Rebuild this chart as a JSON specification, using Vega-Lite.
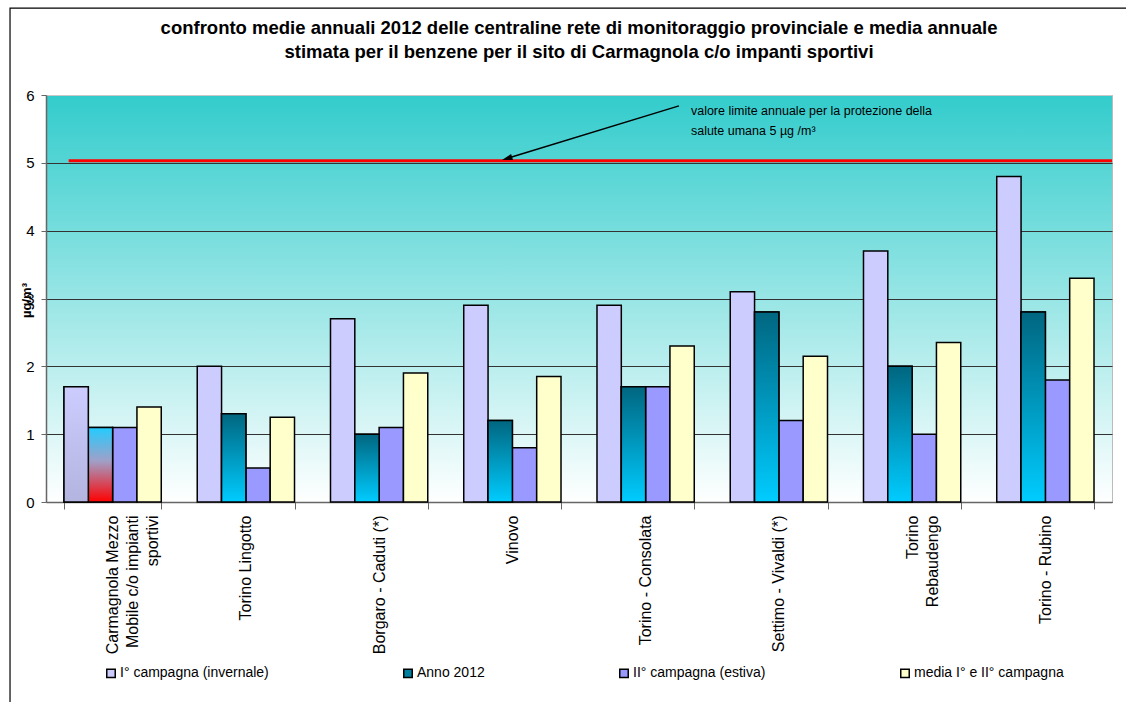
{
  "$schema": "https://vega.github.io/schema/vega-lite/v6.json",
  "width": 1066,
  "height": 407,
  "autosize": {"type": "none"},
  "padding": {"left": 46, "top": 95, "right": 14, "bottom": 200},
  "background": "#FFFFFF",
  "view": {
    "fill": {"gradient": "linear", "x1": 0, "y1": 0, "x2": 0, "y2": 1, "stops": [{"offset": 0, "color": "#33CCCC"}, {"offset": 1, "color": "#FFFFFF"}]},
    "stroke": "#BBBBBB",
    "strokeWidth": 1
  },
  "title": {
    "text": ["confronto medie annuali 2012 delle centraline rete di monitoraggio provinciale e media annuale", "stimata  per il benzene per il sito di Carmagnola c/o impanti sportivi"],
    "font": "Liberation Sans",
    "fontSize": 18.5,
    "fontWeight": "bold",
    "lineHeight": 24,
    "color": "#000000",
    "anchor": "middle",
    "offset": -54
  },
  "config": {
    "font": "Liberation Sans",
    "axis": {"labelColor": "#000000", "titleColor": "#000000", "labelFont": "Liberation Sans", "titleFont": "Liberation Sans"},
    "legend": {"labelFont": "Liberation Sans"}
  },
  "data": {
    "values": [
      {"station": "Carmagnola Mezzo\nMobile c/o impianti\nsportivi", "series": "I° campagna (invernale)", "value": 1.7},
      {"station": "Carmagnola Mezzo\nMobile c/o impianti\nsportivi", "series": "Anno 2012", "value": 1.1},
      {"station": "Carmagnola Mezzo\nMobile c/o impianti\nsportivi", "series": "II° campagna (estiva)", "value": 1.1},
      {"station": "Carmagnola Mezzo\nMobile c/o impianti\nsportivi", "series": "media I° e II° campagna", "value": 1.4},
      {"station": "Torino Lingotto", "series": "I° campagna (invernale)", "value": 2.0},
      {"station": "Torino Lingotto", "series": "Anno 2012", "value": 1.3},
      {"station": "Torino Lingotto", "series": "II° campagna (estiva)", "value": 0.5},
      {"station": "Torino Lingotto", "series": "media I° e II° campagna", "value": 1.25},
      {"station": "Borgaro - Caduti (*)", "series": "I° campagna (invernale)", "value": 2.7},
      {"station": "Borgaro - Caduti (*)", "series": "Anno 2012", "value": 1.0},
      {"station": "Borgaro - Caduti (*)", "series": "II° campagna (estiva)", "value": 1.1},
      {"station": "Borgaro - Caduti (*)", "series": "media I° e II° campagna", "value": 1.9},
      {"station": "Vinovo", "series": "I° campagna (invernale)", "value": 2.9},
      {"station": "Vinovo", "series": "Anno 2012", "value": 1.2},
      {"station": "Vinovo", "series": "II° campagna (estiva)", "value": 0.8},
      {"station": "Vinovo", "series": "media I° e II° campagna", "value": 1.85},
      {"station": "Torino - Consolata", "series": "I° campagna (invernale)", "value": 2.9},
      {"station": "Torino - Consolata", "series": "Anno 2012", "value": 1.7},
      {"station": "Torino - Consolata", "series": "II° campagna (estiva)", "value": 1.7},
      {"station": "Torino - Consolata", "series": "media I° e II° campagna", "value": 2.3},
      {"station": "Settimo - Vivaldi (*)", "series": "I° campagna (invernale)", "value": 3.1},
      {"station": "Settimo - Vivaldi (*)", "series": "Anno 2012", "value": 2.8},
      {"station": "Settimo - Vivaldi (*)", "series": "II° campagna (estiva)", "value": 1.2},
      {"station": "Settimo - Vivaldi (*)", "series": "media I° e II° campagna", "value": 2.15},
      {"station": "Torino\nRebaudengo", "series": "I° campagna (invernale)", "value": 3.7},
      {"station": "Torino\nRebaudengo", "series": "Anno 2012", "value": 2.0},
      {"station": "Torino\nRebaudengo", "series": "II° campagna (estiva)", "value": 1.0},
      {"station": "Torino\nRebaudengo", "series": "media I° e II° campagna", "value": 2.35},
      {"station": "Torino - Rubino", "series": "I° campagna (invernale)", "value": 4.8},
      {"station": "Torino - Rubino", "series": "Anno 2012", "value": 2.8},
      {"station": "Torino - Rubino", "series": "II° campagna (estiva)", "value": 1.8},
      {"station": "Torino - Rubino", "series": "media I° e II° campagna", "value": 3.3}
    ]
  },
  "layer": [
    {
      "layer": [
        {
          "mark": {"type": "bar", "stroke": "#000000", "strokeWidth": 1.5},
          "encoding": {
            "x": {
              "field": "station", "type": "nominal", "sort": null,
              "scale": {"paddingInner": 0.27, "paddingOuter": 0.135},
              "axis": {
                "title": null, "labelAngle": -90, "labelFontSize": 16, "labelLineHeight": 20,
                "labelExpr": "split(datum.label, '\\n')",
                "tickBand": "extent", "tickSize": 7, "tickColor": "#666666", "tickWidth": 1,
                "domainColor": "#666666", "domainWidth": 1.5, "labelPadding": 6, "grid": false,
                "encode": {"labels": {"update": {"dy": {"signal": "-(length(split(datum.label, '\\n')) - 1) * 10"}}}}
              }
            },
            "xOffset": {
              "field": "series", "type": "nominal",
              "scale": {"domain": ["I° campagna (invernale)", "Anno 2012", "II° campagna (estiva)", "media I° e II° campagna"], "paddingInner": 0, "paddingOuter": 0}
            },
            "y": {
              "field": "value", "type": "quantitative",
              "scale": {"domain": [0, 6], "nice": false, "zero": true},
              "axis": {
                "values": [0, 1, 2, 3, 4, 5, 6], "format": "d", "title": "µg/m³", "titleFontSize": 13, "titleFontWeight": "bold",
                "titleAngle": -90, "titleX": -20, "titleY": 205, "titleAlign": "center", "titleBaseline": "middle",
                "labelFontSize": 15, "labelPadding": 7, "tickSize": 5, "tickColor": "#666666",
                "domainColor": "#666666", "domainWidth": 1.5,
                "grid": true, "gridColor": {"condition": {"test": "datum.value === 6", "value": "#C8C8C8"}, "value": "#333333"}, "gridWidth": 1
              }
            },
            "color": {
              "field": "series", "type": "nominal",
              "scale": {"domain": ["I° campagna (invernale)", "Anno 2012", "II° campagna (estiva)", "media I° e II° campagna"], "range": ["#CCCCFF", "#00809F", "#9999FF", "#FFFFCC"]},
              "legend": {
                "title": null, "orient": "none", "legendX": 58, "legendY": 571, "direction": "horizontal", "columns": 4,
                "columnPadding": 131, "symbolType": "square", "symbolSize": 72, "symbolStrokeColor": "#000000", "symbolStrokeWidth": 1.5,
                "symbolOpacity": 1, "labelFontSize": 14, "labelOffset": 2, "labelLimit": 300
              }
            }
          }
        },
        {
          "transform": [{"filter": "datum.series === 'Anno 2012'"}],
          "mark": {"type": "bar", "stroke": "#000000", "strokeWidth": 1.5},
          "encoding": {
            "x": {"field": "station", "type": "nominal", "sort": null},
            "xOffset": {"field": "series", "type": "nominal"},
            "y": {"field": "value", "type": "quantitative"},
            "fill": {
              "condition": {
                "test": "indexof(datum.station, 'Carmagnola') >= 0",
                "value": {"gradient": "linear", "x1": 0, "y1": 0, "x2": 0, "y2": 1, "stops": [{"offset": 0, "color": "#22CCFF"}, {"offset": 0.45, "color": "#A0A0C8"}, {"offset": 1, "color": "#FF0000"}]}
              },
              "value": {"gradient": "linear", "x1": 0, "y1": 0, "x2": 0, "y2": 1, "stops": [{"offset": 0, "color": "#006680"}, {"offset": 1, "color": "#00CCFF"}]}
            }
          }
        },
        {
          "transform": [{"filter": "datum.series === 'I° campagna (invernale)' && indexof(datum.station, 'Carmagnola') >= 0"}],
          "mark": {"type": "bar", "stroke": "#000000", "strokeWidth": 1.5,
            "fill": {"gradient": "linear", "x1": 0, "y1": 0, "x2": 0, "y2": 1, "stops": [{"offset": 0, "color": "#CCCCFF"}, {"offset": 1, "color": "#B4B4E0"}]}},
          "encoding": {
            "x": {"field": "station", "type": "nominal", "sort": null},
            "xOffset": {"field": "series", "type": "nominal"},
            "y": {"field": "value", "type": "quantitative"}
          }
        }
      ]
    },
    {
      "layer": [
        {
          "data": {"values": [{"limit": 5}]},
          "mark": {"type": "rule", "color": "#FF0000", "strokeWidth": 3, "yOffset": -2},
          "encoding": {
            "x": {"datum": 0.17, "type": "quantitative", "scale": {"domain": [0, 8], "nice": false, "zero": false}, "axis": null},
            "x2": {"datum": 8},
            "y": {"field": "limit", "type": "quantitative"}
          }
        },
        {
          "data": {"values": [{}]},
          "mark": {"type": "rule", "color": "#000000", "strokeWidth": 1.5},
          "encoding": {
            "x": {"datum": 4.75, "type": "quantitative"},
            "x2": {"datum": 3.47},
            "y": {"datum": 5.84, "type": "quantitative"},
            "y2": {"datum": 5.07}
          }
        },
        {
          "data": {"values": [{}]},
          "mark": {"type": "point", "shape": "M0,-1L0.6,1L-0.6,1Z", "filled": true, "color": "#000000", "size": 110, "angle": 253, "opacity": 1},
          "encoding": {
            "x": {"datum": 3.46, "type": "quantitative"},
            "y": {"datum": 5.065, "type": "quantitative"}
          }
        },
        {
          "data": {"values": [{}]},
          "mark": {"type": "text", "text": ["valore limite annuale per la protezione della", "salute umana 5 µg /m³"], "align": "left", "baseline": "alphabetic", "fontSize": 12.5, "lineHeight": 20, "color": "#000000", "font": "Liberation Sans"},
          "encoding": {
            "x": {"datum": 4.84, "type": "quantitative"},
            "y": {"datum": 5.71, "type": "quantitative"}
          }
        },
        {
          "data": {"values": [{}]},
          "mark": {"type": "rect", "fill": null, "stroke": "#000000", "strokeWidth": 1.2, "clip": false},
          "encoding": {
            "x": {"datum": -0.27, "type": "quantitative"},
            "x2": {"datum": 8.4},
            "y": {"datum": 7.28, "type": "quantitative"},
            "y2": {"datum": -3.2}
          }
        }
      ]
    }
  ],
  "resolve": {"scale": {"x": "independent"}}
}
